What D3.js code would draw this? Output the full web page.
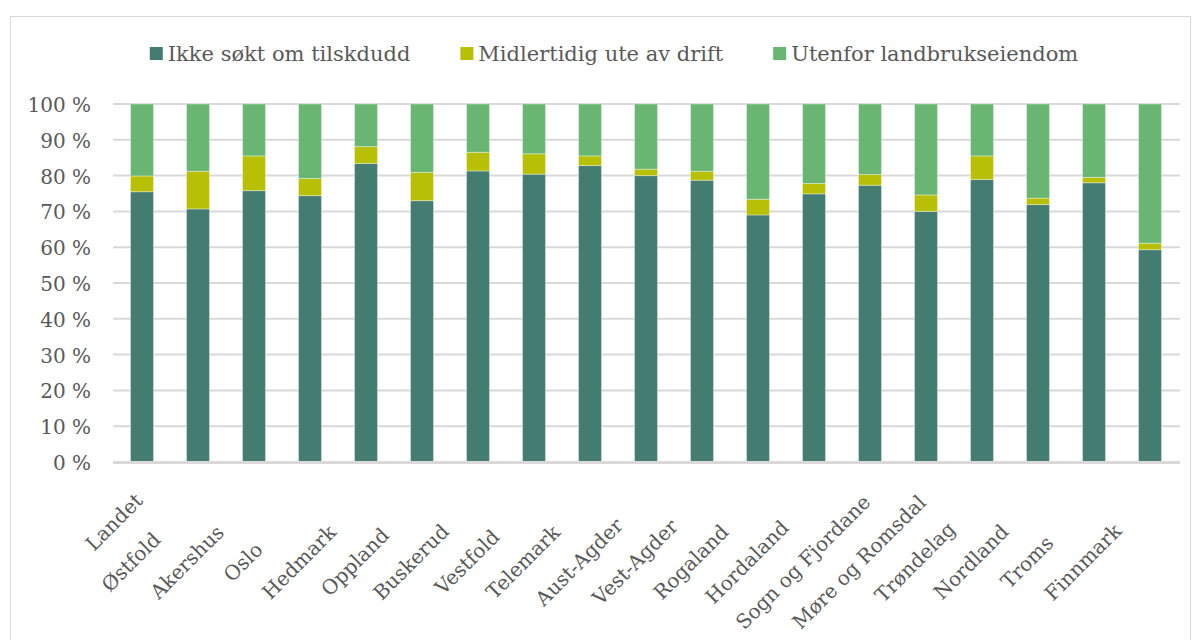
<!DOCTYPE html>
<html>
<head>
<meta charset="utf-8">
<script src="https://cdn.jsdelivr.net/npm/d3@7"></script>
<style>
  html, body { margin: 0; padding: 0; background: #fff; }
  svg { display: block; }
  text { font-family: "DejaVu Serif", "Liberation Serif", serif; fill: #595959; }
</style>
</head>
<body>
<svg id="chart" width="1198" height="640"></svg>
<script>
const categories = ["Landet", "Østfold", "Akershus", "Oslo", "Hedmark", "Oppland", "Buskerud", "Vestfold", "Telemark", "Aust-Agder", "Vest-Agder", "Rogaland", "Hordaland", "Sogn og Fjordane", "Møre og Romsdal", "Trøndelag", "Nordland", "Troms", "Finnmark"];
const seriesNames = ["Ikke søkt om tilskdudd", "Midlertidig ute av drift", "Utenfor landbrukseiendom"];
const ikkeSokt = [75.5, 70.7, 75.8, 74.4, 83.4, 73.0, 81.3, 80.4, 82.8, 80.0, 78.7, 69.0, 74.9, 77.3, 70.0, 78.9, 71.9, 78.0, 59.3];
const midlertidig = [4.4, 10.5, 9.7, 4.8, 4.7, 7.9, 5.2, 5.7, 2.7, 1.8, 2.5, 4.4, 2.9, 3.0, 4.6, 6.6, 1.8, 1.5, 1.8];
const utenfor = [20.1, 18.8, 14.5, 20.8, 11.9, 19.1, 13.5, 13.9, 14.5, 18.2, 18.8, 26.6, 22.2, 19.7, 25.4, 14.5, 26.3, 20.5, 38.9];
const yTicks = [0, 10, 20, 30, 40, 50, 60, 70, 80, 90, 100];
const colors = ["#447C72", "#B8C006", "#69B673"];

const svg = d3.select("#chart");

// chart frame
svg.append("rect").attr("x", 10.5).attr("y", 16.5).attr("width", 1180).attr("height", 640)
  .attr("fill", "none").attr("stroke", "#d9d9d9").attr("stroke-width", 1);

const plot = { left: 114, right: 1178, top: 104, bottom: 462 };

const x = d3.scaleBand().domain(categories).range([plot.left, plot.right])
  .paddingInner(0.59).paddingOuter(0.295);
const y = d3.scaleLinear().domain([0, 100]).range([plot.bottom, plot.top]);

// gridlines
svg.append("g").selectAll("line").data(yTicks.filter(t => t > 0)).join("line")
  .attr("x1", 113).attr("x2", 1180)
  .attr("y1", d => y(d)).attr("y2", d => y(d))
  .attr("stroke", "#d9d9d9").attr("stroke-width", 2);

// y labels
svg.append("g").selectAll("text").data(yTicks).join("text")
  .attr("x", 91).attr("y", d => y(d) + 1)
  .attr("text-anchor", "end").attr("dominant-baseline", "central")
  .attr("font-size", 20)
  .text(d => d + " %");

// stacked data
const rows = categories.map((c, i) => ({ cat: c, s0: ikkeSokt[i], s1: midlertidig[i], s2: utenfor[i] }));
const stack = d3.stack().keys(["s0", "s1", "s2"]);
const stacked = stack(rows);

svg.append("g").selectAll("g").data(stacked).join("g")
  .attr("fill", (d, i) => colors[i])
  .selectAll("rect").data(d => d).join("rect")
  .attr("x", d => x(d.data.cat))
  .attr("width", x.bandwidth())
  .attr("y", d => y(d[1]))
  .attr("height", d => y(d[0]) - y(d[1]))
  .attr("stroke", "#ffffff").attr("stroke-opacity", 0.35).attr("stroke-width", 1);

// baseline
svg.append("line").attr("x1", 113).attr("x2", 1180)
  .attr("y1", y(0) + 0.5).attr("y2", y(0) + 0.5)
  .attr("stroke", "#d9d9d9").attr("stroke-width", 3);

// x labels
svg.append("g").selectAll("text").data(categories).join("text")
  .attr("transform", (d, i) => {
    const cx = x(d) + x.bandwidth() / 2 + (i === 0 ? -28 : -67);
    const cy = i === 0 ? 522 : 562;
    return `translate(${cx},${cy}) rotate(-45)`;
  })
  .attr("text-anchor", "middle").attr("dominant-baseline", "central")
  .attr("font-size", 20)
  .text(d => d);

// legend
const legend = svg.append("g");
const items = legend.selectAll("g").data(seriesNames).join("g");
items.append("rect").attr("width", 13).attr("height", 13).attr("y", -7)
  .attr("fill", (d, i) => colors[i]);
items.append("text").attr("x", 18).attr("y", 0).attr("dominant-baseline", "central")
  .attr("font-size", 21).text(d => d);
const widths = [];
items.each(function () {
  widths.push(d3.select(this).select("text").node().getComputedTextLength() + 18);
});
const gap = 50;
const total = d3.sum(widths) + gap * (widths.length - 1);
let start = 614 - total / 2;
items.attr("transform", (d, i) => {
  const tx = start;
  start += widths[i] + gap;
  return `translate(${tx},54)`;
});
</script>
</body>
</html>
